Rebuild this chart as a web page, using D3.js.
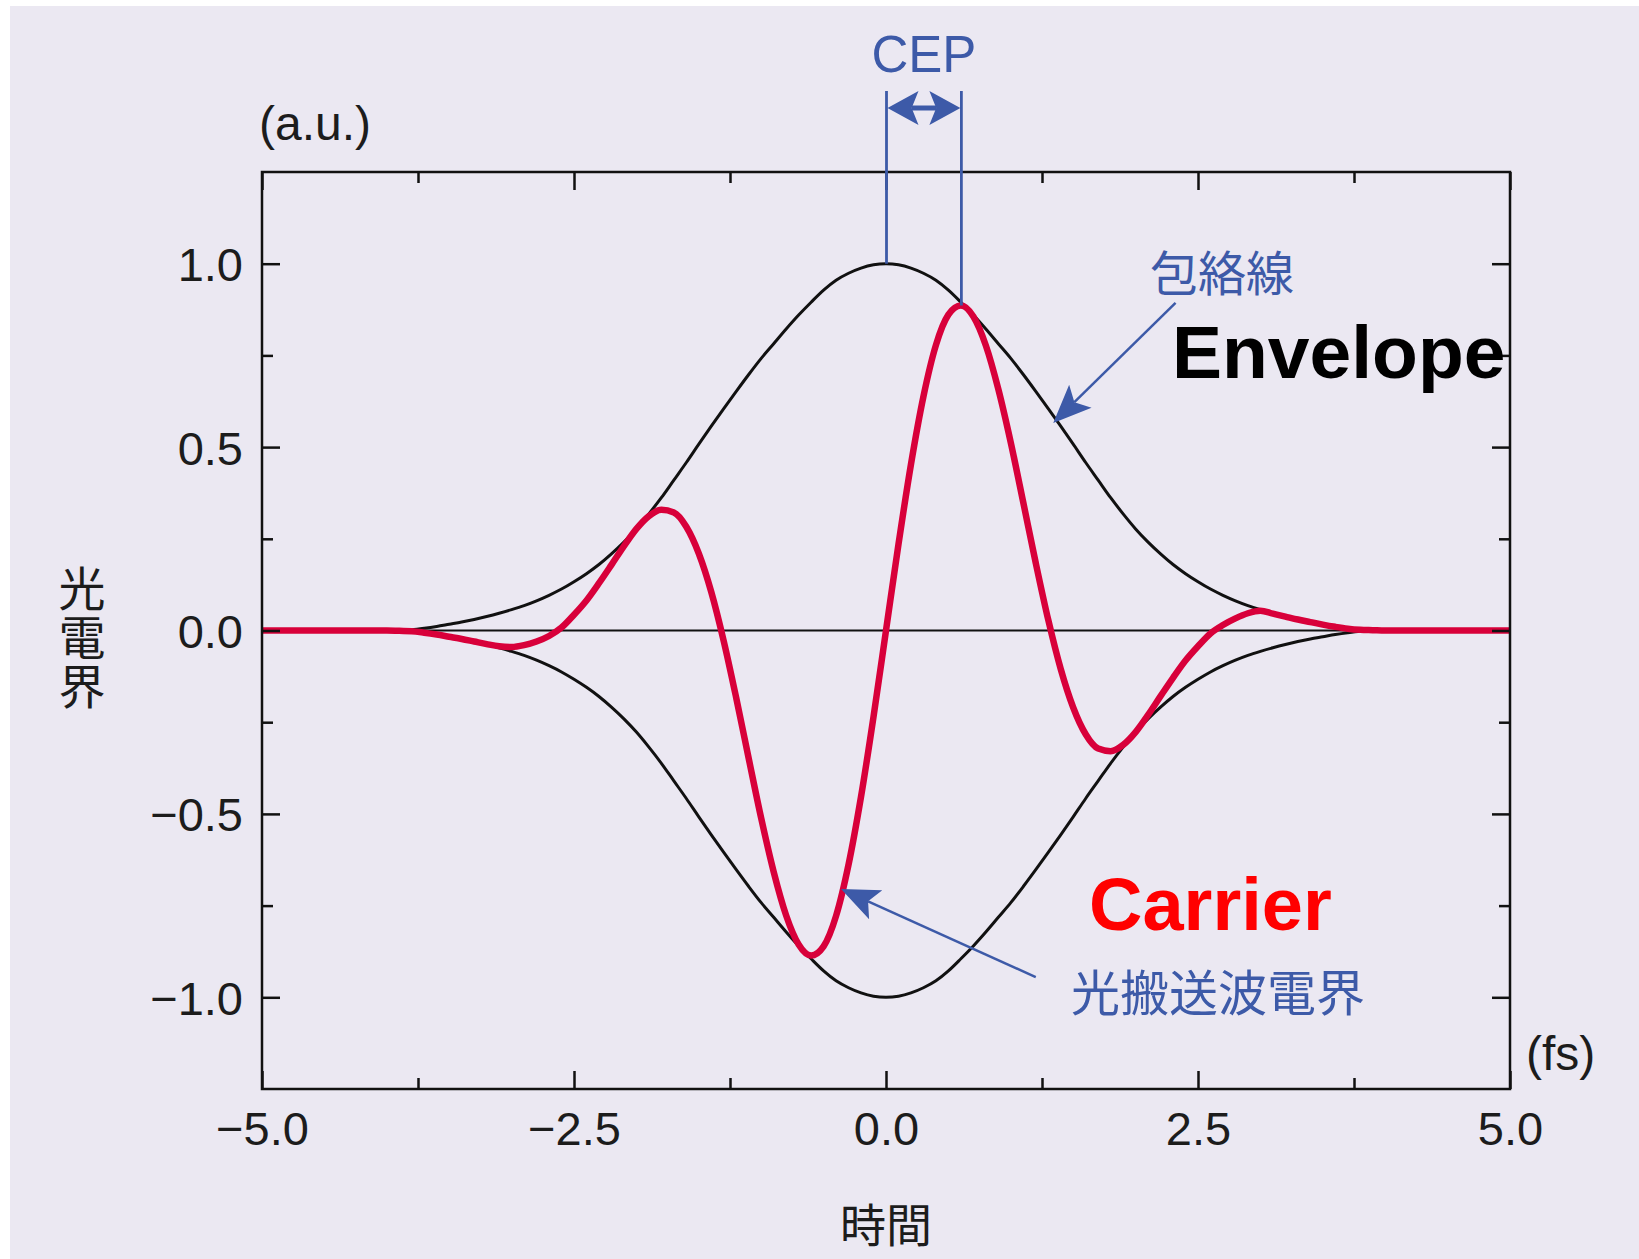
<!DOCTYPE html>
<html>
<head>
<meta charset="utf-8">
<script src="https://cdn.jsdelivr.net/npm/d3@7"></script>
<style>
  html, body { margin: 0; padding: 0; background: #ffffff; }
  svg { display: block; }
</style>
</head>
<body>
<svg id="chart" width="1639" height="1259"></svg>
<script>
// Time axis samples (fs)
const timeFs = [
  -5.0, -4.5, -4.2,
  -4.1, -4.0, -3.9, -3.8, -3.7, -3.6, -3.5, -3.4, -3.3, -3.2, -3.1,
  -3.0, -2.9, -2.8, -2.7, -2.6, -2.5, -2.4, -2.3, -2.2, -2.1,
  -2.0, -1.9, -1.8, -1.7, -1.6, -1.5, -1.4, -1.3, -1.2, -1.1,
  -1.0, -0.9, -0.8, -0.7, -0.6, -0.5, -0.4, -0.3, -0.2, -0.1,
   0.0,  0.1,  0.2,  0.3,  0.4,  0.5,  0.6,  0.7,  0.8,  0.9,
   1.0,  1.1,  1.2,  1.3,  1.4,  1.5,  1.6,  1.7,  1.8,  1.9,
   2.0,  2.1,  2.2,  2.3,  2.4,  2.5,  2.6,  2.7,  2.8,  2.9,
   3.0,  3.1,  3.2,  3.3,  3.4,  3.5,  3.6,  3.7,  3.8,  3.9,
   4.0,  4.1,
   4.2, 4.5, 5.0
];

// Pulse envelope amplitude (a.u.), drawn as +/- envelope
const envelopeAmp = [
  0, 0, 0,
  0, 0, 0, 0.002, 0.006, 0.011, 0.017, 0.023, 0.030, 0.038, 0.047,
  0.057, 0.068, 0.081, 0.096, 0.113, 0.133, 0.155, 0.180, 0.209, 0.241,
  0.277, 0.318, 0.362, 0.410, 0.458, 0.508, 0.557, 0.605, 0.652, 0.698,
  0.742, 0.782, 0.822, 0.860, 0.895, 0.928, 0.955, 0.974, 0.988, 0.997,
  1.000, 0.997, 0.988, 0.974, 0.955, 0.928, 0.895, 0.860, 0.822, 0.782,
  0.742, 0.698, 0.652, 0.605, 0.557, 0.508, 0.458, 0.410, 0.362, 0.318,
  0.277, 0.241, 0.209, 0.180, 0.155, 0.133, 0.113, 0.096, 0.081, 0.068,
  0.057, 0.047, 0.038, 0.030, 0.023, 0.017, 0.011, 0.006, 0.002, 0,
  0, 0,
  0, 0, 0
];

// Optical carrier field (a.u.)
const carrierField = [
  0, 0, 0,
  0, 0, -0.001, -0.002, -0.006, -0.011, -0.017, -0.023, -0.030, -0.037, -0.043,
  -0.045, -0.040, -0.030, -0.015, 0.008, 0.043, 0.082, 0.129, 0.179, 0.230,
  0.277, 0.312, 0.329, 0.322, 0.283, 0.210, 0.105, -0.029, -0.184, -0.349,
  -0.512, -0.658, -0.777, -0.856, -0.886, -0.861, -0.778, -0.638, -0.453, -0.235,
  0, 0.235, 0.453, 0.638, 0.778, 0.861, 0.886, 0.856, 0.777, 0.658,
  0.512, 0.349, 0.184, 0.029, -0.105, -0.210, -0.283, -0.322, -0.329, -0.312,
  -0.277, -0.230, -0.179, -0.129, -0.082, -0.043, -0.008, 0.015, 0.033, 0.047,
  0.054, 0.046, 0.038, 0.030, 0.023, 0.016, 0.010, 0.005, 0.002, 0.001,
  0, 0,
  0, 0, 0
];

// Axis ticks
const xMajorTicks = [-5.0, -2.5, 0.0, 2.5, 5.0];
const xMinorTicks = [-3.75, -1.25, 1.25, 3.75];
const yMajorTicks = [-1.0, -0.5, 0.0, 0.5, 1.0];
const yMinorTicks = [-0.75, -0.25, 0.25, 0.75];

// Annotation anchors in data units [time, field]
const envelopeArrow = { from: [2.32, 0.893], to: [1.34, 0.566] };
const carrierArrow  = { from: [1.20, -0.945], to: [-0.36, -0.705] };

const W = 1639, H = 1259;
const plot = { left: 262, right: 1510, top: 172, bottom: 1089 };
const BG = "#ebe8f2";
const BLUE = "#3d5aa8";
const INK = "#1c1c1c";
const RED = "#d8003a";
const LATIN = "'Liberation Sans', Arial, Helvetica, sans-serif";
const CJK = "'Noto Sans CJK JP', 'Noto Sans CJK SC', sans-serif";

const svg = d3.select("#chart");

// Page background with a thin white margin on the top and left
svg.append("rect").attr("x", 0).attr("y", 0).attr("width", W).attr("height", H).attr("fill", "#ffffff");
svg.append("rect").attr("x", 10).attr("y", 6).attr("width", W - 10).attr("height", H - 6).attr("fill", BG);

const x = d3.scaleLinear().domain([-5, 5]).range([plot.left, plot.right]);
const y = d3.scaleLinear().domain([-1.25, 1.25]).range([plot.bottom, plot.top]);

const pts = timeFs.map((t, i) => ({ t, env: envelopeAmp[i], car: carrierField[i] }));

// Zero reference line
svg.append("line")
  .attr("x1", x(-5)).attr("x2", x(5))
  .attr("y1", y(0)).attr("y2", y(0))
  .attr("stroke", "#111").attr("stroke-width", 2);

// Envelope (upper and lower)
const envUpper = d3.line().x(d => x(d.t)).y(d => y(d.env)).curve(d3.curveMonotoneX);
const envLower = d3.line().x(d => x(d.t)).y(d => y(-d.env)).curve(d3.curveMonotoneX);
svg.append("path").datum(pts).attr("d", envUpper)
  .attr("fill", "none").attr("stroke", "#111").attr("stroke-width", 3);
svg.append("path").datum(pts).attr("d", envLower)
  .attr("fill", "none").attr("stroke", "#111").attr("stroke-width", 3);

// Carrier field
const carLine = d3.line().x(d => x(d.t)).y(d => y(d.car)).curve(d3.curveMonotoneX);
svg.append("path").datum(pts).attr("d", carLine)
  .attr("fill", "none").attr("stroke", RED).attr("stroke-width", 6.5)
  .attr("stroke-linejoin", "round").attr("stroke-linecap", "butt");

// Axes: inward ticks on all four sides, labels on bottom and left
function styleAxis(g) {
  g.select(".domain").remove();
  g.selectAll(".tick line").attr("stroke", "#111").attr("stroke-width", 2.5);
}
const tickFontSize = 47;
const fmt = d => d3.format(".1f")(d).replace("-", "\u2212");

svg.append("g").attr("transform", `translate(0,${plot.bottom})`)
  .call(d3.axisBottom(x).tickValues(xMajorTicks).tickSize(-18).tickPadding(23).tickFormat(fmt))
  .call(styleAxis)
  .call(g => g.selectAll("text")
    .attr("font-family", LATIN).attr("font-size", tickFontSize).attr("fill", INK));

svg.append("g").attr("transform", `translate(0,${plot.bottom})`)
  .call(d3.axisBottom(x).tickValues(xMinorTicks).tickSize(-11).tickFormat(""))
  .call(styleAxis);

svg.append("g").attr("transform", `translate(0,${plot.top})`)
  .call(d3.axisTop(x).tickValues(xMajorTicks).tickSize(-18).tickFormat(""))
  .call(styleAxis);
svg.append("g").attr("transform", `translate(0,${plot.top})`)
  .call(d3.axisTop(x).tickValues(xMinorTicks).tickSize(-11).tickFormat(""))
  .call(styleAxis);

svg.append("g").attr("transform", `translate(${plot.left},0)`)
  .call(d3.axisLeft(y).tickValues(yMajorTicks).tickSize(-18).tickPadding(19).tickFormat(fmt))
  .call(styleAxis)
  .call(g => g.selectAll("text")
    .attr("font-family", LATIN).attr("font-size", tickFontSize).attr("fill", INK)
    .attr("dy", "0.36em"));
svg.append("g").attr("transform", `translate(${plot.left},0)`)
  .call(d3.axisLeft(y).tickValues(yMinorTicks).tickSize(-11).tickFormat(""))
  .call(styleAxis);

svg.append("g").attr("transform", `translate(${plot.right},0)`)
  .call(d3.axisRight(y).tickValues(yMajorTicks).tickSize(-18).tickFormat(""))
  .call(styleAxis);
svg.append("g").attr("transform", `translate(${plot.right},0)`)
  .call(d3.axisRight(y).tickValues(yMinorTicks).tickSize(-11).tickFormat(""))
  .call(styleAxis);

// Plot frame
svg.append("rect")
  .attr("x", plot.left).attr("y", plot.top)
  .attr("width", plot.right - plot.left).attr("height", plot.bottom - plot.top)
  .attr("fill", "none").attr("stroke", "#111").attr("stroke-width", 2.5);

// Unit labels
svg.append("text").attr("x", 259).attr("y", 140)
  .attr("font-family", LATIN).attr("font-size", 48).attr("fill", INK).text("(a.u.)");
svg.append("text").attr("x", 1526).attr("y", 1070)
  .attr("font-family", LATIN).attr("font-size", 48).attr("fill", INK).text("(fs)");

// Axis titles
svg.append("text").attr("x", x(0)).attr("y", 1242)
  .attr("text-anchor", "middle")
  .attr("font-family", CJK).attr("font-size", 46).attr("fill", INK).text("時間");
// Vertical (top-to-bottom) y-axis title
svg.append("text")
  .attr("x", 82).attr("y", 565)
  .attr("writing-mode", "tb")
  .style("writing-mode", "vertical-rl")
  .attr("letter-spacing", 2)
  .attr("font-family", CJK).attr("font-size", 47).attr("fill", INK)
  .text("光電界");

// Arrowhead helper: filled head with a shallow notch
function arrowHead(tip, from, len, halfW, color) {
  const dx = tip[0] - from[0], dy = tip[1] - from[1];
  const L = Math.hypot(dx, dy);
  const ux = dx / L, uy = dy / L;
  const nx = -uy, ny = ux;
  const bx = tip[0] - ux * len, by = tip[1] - uy * len;
  const notchX = tip[0] - ux * len * 0.78, notchY = tip[1] - uy * len * 0.78;
  const p = [
    [tip[0], tip[1]],
    [bx + nx * halfW, by + ny * halfW],
    [notchX, notchY],
    [bx - nx * halfW, by - ny * halfW]
  ];
  svg.append("path").attr("d", "M" + p.map(q => q.join(",")).join("L") + "Z")
    .attr("fill", color);
  return [notchX, notchY];
}

function pointerArrow(a) {
  const from = [x(a.from[0]), y(a.from[1])];
  const tip = [x(a.to[0]), y(a.to[1])];
  const neck = arrowHead(tip, from, 38, 16, BLUE);
  svg.append("line")
    .attr("x1", from[0]).attr("y1", from[1]).attr("x2", neck[0]).attr("y2", neck[1])
    .attr("stroke", BLUE).attr("stroke-width", 2.5);
}

// CEP marker: envelope peak vs carrier peak
const iEnv = d3.maxIndex(envelopeAmp);
const iCar = d3.maxIndex(carrierField);
const xEnvPk = x(timeFs[iEnv]) + 0.5, xCarPk = x(timeFs[iCar]) + 0.5;
const cepTop = 91, cepArrowY = 108;
svg.append("line").attr("x1", xEnvPk).attr("x2", xEnvPk)
  .attr("y1", cepTop).attr("y2", y(envelopeAmp[iEnv]))
  .attr("stroke", BLUE).attr("stroke-width", 2.8);
svg.append("line").attr("x1", xCarPk).attr("x2", xCarPk)
  .attr("y1", cepTop).attr("y2", y(carrierField[iCar]))
  .attr("stroke", BLUE).attr("stroke-width", 2.8);
const midX = (xEnvPk + xCarPk) / 2;
const nL = arrowHead([xEnvPk + 1, cepArrowY], [midX, cepArrowY], 31, 17, BLUE);
const nR = arrowHead([xCarPk - 1, cepArrowY], [midX, cepArrowY], 31, 17, BLUE);
svg.append("line").attr("x1", nL[0]).attr("x2", nR[0])
  .attr("y1", cepArrowY).attr("y2", cepArrowY)
  .attr("stroke", BLUE).attr("stroke-width", 5);
svg.append("text").attr("x", midX).attr("y", 72)
  .attr("text-anchor", "middle")
  .attr("font-family", LATIN).attr("font-size", 51).attr("fill", BLUE).text("CEP");

// Envelope annotation
pointerArrow(envelopeArrow);
svg.append("text").attr("x", 1150).attr("y", 291)
  .attr("font-family", CJK).attr("font-size", 48).attr("fill", BLUE).text("包絡線");
svg.append("text").attr("x", 1172).attr("y", 378)
  .attr("font-family", LATIN).attr("font-weight", "bold").attr("font-size", 75)
  .attr("fill", "#000").text("Envelope");

// Carrier annotation
pointerArrow(carrierArrow);
svg.append("text").attr("x", 1089).attr("y", 930)
  .attr("font-family", LATIN).attr("font-weight", "bold").attr("font-size", 74)
  .attr("fill", "#ff0000").text("Carrier");
svg.append("text").attr("x", 1071).attr("y", 1011)
  .attr("font-family", CJK).attr("font-size", 49).attr("fill", BLUE).text("光搬送波電界");
</script>
</body>
</html>
